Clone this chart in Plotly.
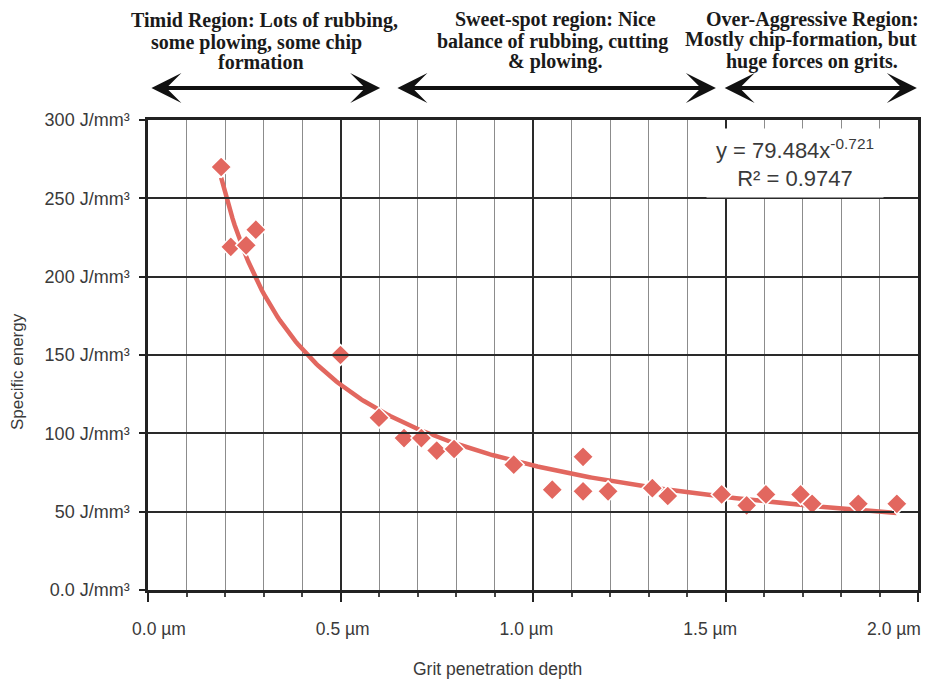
import numpy as np
import plotly.graph_objects as go

# ---------------- data ----------------
depth_um = [0.19, 0.215, 0.255, 0.28, 0.50, 0.60, 0.665, 0.71, 0.75, 0.795,
            0.95, 1.05, 1.13, 1.13, 1.195, 1.31, 1.35, 1.49, 1.555, 1.605,
            1.695, 1.725, 1.845, 1.945]
energy_j_mm3 = [270, 219, 220, 230, 150, 110, 97, 97, 89, 90,
                80, 64, 85, 63, 63, 65, 60, 61, 54, 61,
                61, 55, 55, 55]

fit_coef = 79.484
fit_exp = -0.721
fit_r2 = 0.9747

y_tickvals = [0, 50, 100, 150, 200, 250, 300]
y_ticktext = ["0.0 J/mm³", "50 J/mm³", "100 J/mm³", "150 J/mm³",
              "200 J/mm³", "250 J/mm³", "300 J/mm³"]
x_tickvals = [0, 0.5, 1.0, 1.5, 2.0]
x_ticktext = ["0.0 µm", "0.5 µm", "1.0 µm", "1.5 µm", "2.0 µm"]

region_lines = [
    ["Timid Region: Lots of rubbing,", "some plowing, some chip", "formation"],
    ["Sweet-spot region: Nice", "balance of rubbing, cutting", "& plowing."],
    ["Over-Aggressive Region:", "Mostly chip-formation, but", "huge forces on grits."],
]
region_spans = [(0.005, 0.603), (0.644, 1.475), (1.494, 1.997)]

# ---------------- style ----------------
RED = "#E2675F"
SANS = "Liberation Sans, Arial, sans-serif"
SERIF = "Liberation Serif, Times New Roman, serif"
TXT = "#3a3a3a"

# page body has an 8px margin: figure drawn at (8, 8)
OFF = 8
PL, PR, PT, PB = 148, 918, 120, 590          # plot area in screenshot pixels
W, H = 929 - 2 * OFF, 689 - 2 * OFF
PW, PH = PR - PL, PB - PT

fig = go.Figure()

# trendline (power fit shown in chart)
xf = np.linspace(min(depth_um), max(depth_um), 300)
yf = fit_coef * xf ** fit_exp
fig.add_trace(go.Scatter(x=xf, y=yf, mode="lines",
                         line=dict(color=RED, width=4.5),
                         showlegend=False, hoverinfo="skip"))

fig.add_trace(go.Scatter(x=depth_um, y=energy_j_mm3, mode="markers",
                         marker=dict(symbol="diamond", size=16, color=RED,
                                     line=dict(color="white", width=1.5)),
                         showlegend=False))

# invisible trace to host the label axis
fig.add_trace(go.Scatter(x=[None], y=[None], xaxis="x2", yaxis="y",
                         showlegend=False, hoverinfo="skip"))

annotations = []


def px_x(px):
    return (px - PL) / PW


def px_y(py):
    return (PB - py) / PH


# region texts (per line: screenshot y, screenshot x center)
line_pos = [[(21, 264), (42, 256), (62, 261)],
            [(20, 555), (41, 552), (62, 555)],
            [(19, 812), (40, 801), (61, 812)]]
for lines, pos in zip(region_lines, line_pos):
    for txt, (py, pxc) in zip(lines, pos):
        annotations.append(dict(
            x=px_x(pxc), xref="paper", y=px_y(py), yref="paper",
            text=txt, showarrow=False, xanchor="center", yanchor="middle",
            font=dict(family=SERIF, size=20, color="#1a1a1a", weight="bold")))

# double-headed arrows
arrow_y = px_y(88)
for (a, b) in region_spans:
    annotations.append(dict(
        x=b, y=arrow_y, xref="x", yref="paper",
        ax=a, ay=0, axref="x", ayref="pixel",
        text="", showarrow=True, arrowside="end+start",
        arrowhead=3, startarrowhead=3, arrowsize=1.25, startarrowsize=1.25,
        arrowwidth=4, arrowcolor="#111111", standoff=0, startstandoff=0))

# equation box
annotations.append(dict(
    x=px_x(795), y=px_y(163), xref="paper", yref="paper",
    text=f"y = {fit_coef}x<sup>{fit_exp}</sup><br>R² = {fit_r2}",
    showarrow=False, bgcolor="white", width=174, height=66,
    xanchor="center", yanchor="middle",
    font=dict(family=SANS, size=22, color=TXT), align="center"))

# axis titles
annotations.append(dict(
    x=px_x(497), y=px_y(669), xref="paper", yref="paper",
    xanchor="center", yanchor="middle",
    text="Grit penetration depth", showarrow=False,
    font=dict(family=SANS, size=17.5, color=TXT)))
annotations.append(dict(
    x=px_x(17), y=px_y(372), xref="paper", yref="paper",
    xanchor="center", yanchor="middle",
    text="Specific energy", showarrow=False, textangle=-90,
    font=dict(family=SANS, size=17, color=TXT)))

fig.update_layout(
    width=W, height=H,
    margin=dict(l=PL - OFF, r=W - (PR - OFF), t=PT - OFF, b=H - (PB - OFF),
                autoexpand=False),
    paper_bgcolor="white", plot_bgcolor="rgba(0,0,0,0)",
    annotations=annotations,
    xaxis=dict(range=[0, 2], tickvals=x_tickvals, showticklabels=False,
               showgrid=True, gridcolor="#2a2a2a", gridwidth=1.5,
               ticks="outside", ticklen=9, tickwidth=1.5, tickcolor="#222",
               showline=True, linecolor="#222", linewidth=2.5, mirror=True,
               zeroline=False,
               minor=dict(dtick=0.1, showgrid=True, gridcolor="#8c8c8c",
                          gridwidth=1, ticks="outside", ticklen=4,
                          tickcolor="#444")),
    xaxis2=dict(range=[0, 2], domain=[px_x(159), px_x(894)],
                anchor="y", tickvals=x_tickvals, ticktext=x_ticktext,
                showgrid=False, zeroline=False, showline=False, ticks="",
                ticklabelstandoff=26,
                tickfont=dict(family=SANS, size=17.5, color=TXT)),
    yaxis=dict(range=[0, 300], tickvals=y_tickvals, ticktext=y_ticktext,
               showgrid=True, gridcolor="#2a2a2a", gridwidth=1.5,
               ticks="outside", ticklen=6, tickwidth=1.5, tickcolor="#222",
               showline=True, linecolor="#222", linewidth=2.5, mirror=True,
               zeroline=False, ticklabelstandoff=6,
               tickfont=dict(family=SANS, size=18, color=TXT)),
)

fig.write_html("out.html")
